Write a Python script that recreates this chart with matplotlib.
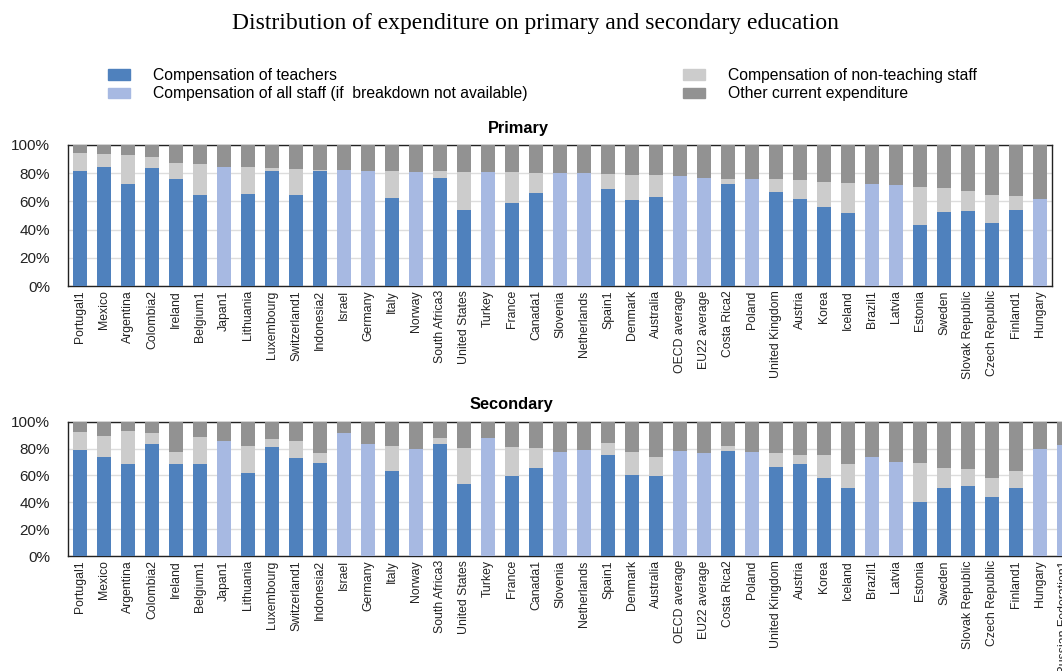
import matplotlib
matplotlib.use('Agg')
import matplotlib.pyplot as plt
from matplotlib.patches import Patch
import numpy as np

countries = ['Portugal1', 'Mexico', 'Argentina', 'Colombia2', 'Ireland', 'Belgium1', 'Japan1',
             'Lithuania', 'Luxembourg', 'Switzerland1', 'Indonesia2', 'Israel', 'Germany', 'Italy',
             'Norway', 'South Africa3', 'United States', 'Turkey', 'France', 'Canada1', 'Slovenia',
             'Netherlands', 'Spain1', 'Denmark', 'Australia', 'OECD average', 'EU22 average',
             'Costa Rica2', 'Poland', 'United Kingdom', 'Austria', 'Korea', 'Iceland', 'Brazil1',
             'Latvia', 'Estonia', 'Sweden', 'Slovak Republic', 'Czech Republic', 'Finland1', 'Hungary']
countries_sec = countries + ['Russian Federation1']

# Primary (%)
prim_teachers = [81.8, 84.6, 72.3, 83.9, 75.7, 64.3, 0, 65.0, 81.8, 64.8, 81.8, 0, 0, 62.2,
                 0, 76.8, 53.9, 0, 58.6, 66.2, 0, 0, 68.8, 61.2, 63.1, 0, 0,
                 72.1, 0, 66.7, 61.5, 55.8, 52.0, 0, 0, 43.3, 52.5, 53.2, 44.4, 53.7, 0]
prim_allstaff = [0, 0, 0, 0, 0, 0, 84.6, 0, 0, 0, 0, 82.3, 81.6, 0,
                 81.1, 0, 0, 80.6, 0, 0, 80.1, 80.1, 0, 0, 0, 78.3, 76.6,
                 0, 75.9, 0, 0, 0, 0, 72.1, 71.6, 0, 0, 0, 0, 0, 61.9]
prim_nonteach = [12.3, 9.0, 20.6, 7.8, 11.3, 22.0, 0, 19.6, 1.7, 18.2, 0.5, 0, 0, 19.6,
                 0, 4.5, 26.7, 0, 22.0, 13.9, 0, 0, 10.9, 17.8, 15.4, 0, 0,
                 3.8, 0, 9.4, 13.5, 18.2, 21.3, 0, 0, 27.1, 16.8, 14.0, 19.9, 10.1, 0]
prim_other = [5.9, 6.4, 7.1, 8.3, 13.0, 13.7, 15.4, 15.4, 16.5, 17.0, 17.7, 17.7, 18.4, 18.2,
              18.9, 18.7, 19.4, 19.4, 19.4, 19.9, 19.9, 19.9, 20.3, 21.0, 21.5, 21.7, 23.4,
              24.1, 24.1, 23.9, 25.0, 26.0, 26.7, 27.9, 28.4, 29.6, 30.7, 32.8, 35.7, 36.2, 38.1]

# Secondary (%)
sec_teachers = [78.9, 73.9, 68.3, 83.6, 68.3, 68.3, 0, 61.8, 81.2, 73.0, 69.5, 0, 0, 63.1,
                0, 83.1, 53.9, 0, 59.3, 65.8, 0, 0, 75.4, 60.3, 59.8, 0, 0,
                78.4, 0, 66.5, 68.3, 58.1, 50.4, 0, 0, 40.4, 50.9, 52.1, 43.9, 50.4, 0, 0]
sec_allstaff = [0, 0, 0, 0, 0, 0, 85.9, 0, 0, 0, 0, 91.3, 83.6, 0,
                79.9, 0, 0, 87.9, 0, 0, 77.2, 78.9, 0, 0, 0, 78.4, 76.7,
                0, 77.2, 0, 0, 0, 0, 73.5, 70.0, 0, 0, 0, 0, 0, 79.9, 82.6]
sec_nonteach = [13.2, 15.2, 24.8, 8.2, 9.4, 20.1, 0, 20.1, 5.9, 12.9, 7.2, 0, 0, 18.8,
                0, 4.8, 26.8, 0, 21.9, 14.4, 0, 0, 8.7, 17.4, 14.1, 0, 0,
                3.5, 0, 10.2, 6.7, 17.1, 18.3, 0, 0, 29.1, 14.6, 12.9, 14.2, 12.7, 0, 0]
sec_other = [7.9, 10.9, 6.9, 8.2, 22.3, 11.6, 14.1, 18.1, 12.9, 14.1, 23.3, 8.7, 16.4, 18.1,
             20.1, 12.1, 19.3, 12.1, 18.8, 19.8, 22.8, 21.1, 15.9, 22.3, 26.1, 21.6, 23.3,
             18.1, 22.8, 23.3, 25.0, 24.8, 31.3, 26.5, 30.0, 30.5, 34.5, 35.0, 41.9, 36.9, 20.1, 17.4]

C_TEACH = '#4F81BD'
C_ALL = '#A7B9E2'
C_NON = '#CCCCCC'
C_OTHER = '#929292'
SANS = 'Liberation Sans'

W, H = 1062, 671
fig = plt.figure(figsize=(W / 100, H / 100), dpi=100)


def draw(ax, labels, t, a, n, o):
    x = np.arange(len(labels))
    t, a, n, o = map(np.array, (t, a, n, o))
    bw = 0.62
    ax.bar(x, t, bw, color=C_TEACH, zorder=3)
    ax.bar(x, a, bw, bottom=t, color=C_ALL, zorder=3)
    ax.bar(x, n, bw, bottom=t + a, color=C_NON, zorder=3)
    ax.bar(x, o, bw, bottom=t + a + n, color=C_OTHER, zorder=3)
    ax.set_xlim(-0.5, len(labels) - 0.5)
    ax.set_ylim(0, 100)
    ax.set_yticks(range(0, 101, 20))
    ax.set_yticklabels([f'{v}%' for v in range(0, 101, 20)], fontsize=11,
                       family=SANS, color='#222222')
    ax.set_xticks(x)
    ax.set_xticklabels(labels, rotation=90, fontsize=8.8, family=SANS, color='#222222')
    ax.tick_params(axis='both', length=0)
    ax.tick_params(axis='y', pad=13)
    ax.tick_params(axis='x', pad=3)
    ax.yaxis.grid(True, color='#DDDDDD', linewidth=1, zorder=0)
    for s in ax.spines.values():
        s.set_color('#222222')
        s.set_linewidth(1)


ax1 = fig.add_axes([68 / W, (H - 286) / H, (1052 - 68) / W, (286 - 145) / H])
draw(ax1, countries, prim_teachers, prim_allstaff, prim_nonteach, prim_other)
ax2 = fig.add_axes([68 / W, (H - 556) / H, (1076 - 68) / W, (556 - 421.7) / H])
draw(ax2, countries_sec, sec_teachers, sec_allstaff, sec_nonteach, sec_other)

fig.text(535.5 / W, 1 - 24 / H, 'Distribution of expenditure on primary and secondary education',
         ha='center', va='center', fontsize=17, family='Liberation Serif')
fig.text(518 / W, 1 - 129 / H, 'Primary', ha='center', va='center', fontsize=11.8,
         fontweight='bold', family=SANS)
fig.text(511 / W, 1 - 405 / H, 'Secondary', ha='center', va='center', fontsize=11.8,
         fontweight='bold', family=SANS)

leg_kw = dict(frameon=False, handlelength=1.4, handleheight=0.65,
              handletextpad=1.45, labelspacing=0.22, borderpad=0, borderaxespad=0,
              loc='upper left', prop={'family': SANS, 'size': 11.3})
fig.legend(handles=[Patch(color=C_TEACH, label='Compensation of teachers'),
                    Patch(color=C_ALL, label='Compensation of all staff (if  breakdown not available)')],
           bbox_to_anchor=(108 / W, 1 - 68 / H), **leg_kw)
fig.legend(handles=[Patch(color=C_NON, label='Compensation of non-teaching staff'),
                    Patch(color=C_OTHER, label='Other current expenditure')],
           bbox_to_anchor=(683 / W, 1 - 68 / H), **leg_kw)

fig.savefig('out.png', dpi=100)
